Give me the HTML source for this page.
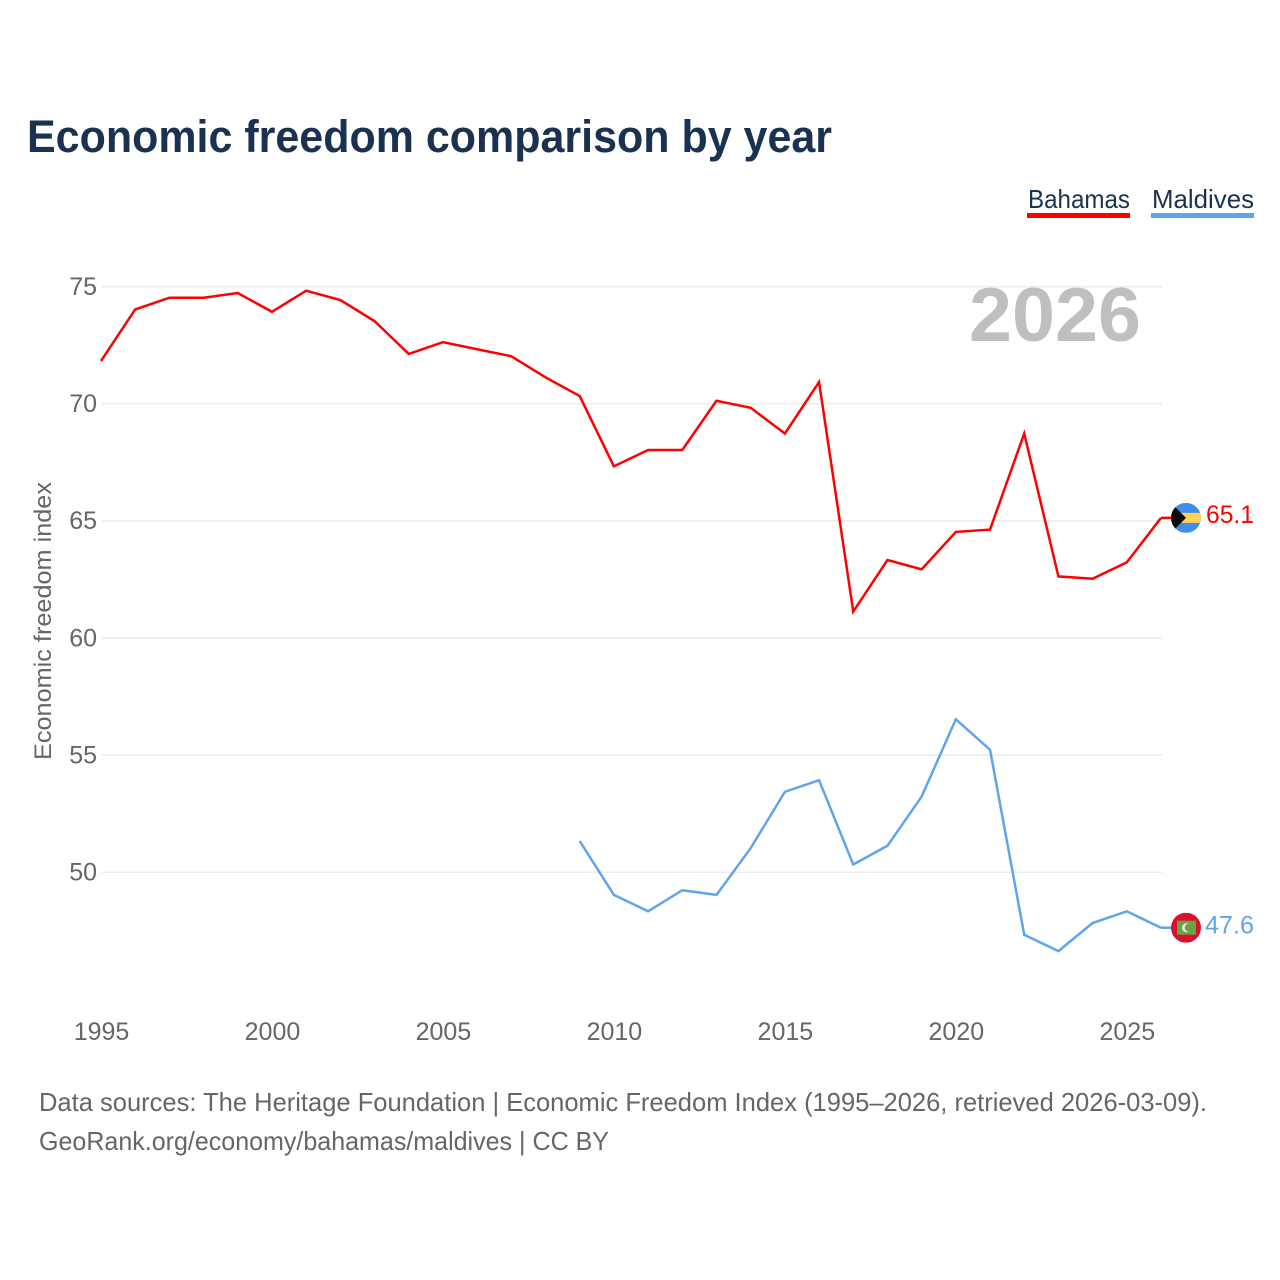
<!DOCTYPE html>
<html lang="en">
<head>
<meta charset="utf-8">
<title>Economic freedom comparison by year</title>
<style>
html,body{margin:0;padding:0;background:#fff;}
svg{display:block;font-family:"Liberation Sans",sans-serif;}
</style>
</head>
<body>
<svg id="chart" width="1280" height="1280" viewBox="0 0 1280 1280" xmlns="http://www.w3.org/2000/svg">
  <rect width="1280" height="1280" fill="#ffffff"/>
  <text x="27" y="152" font-size="45" font-weight="700" fill="#1a3150" textLength="805" lengthAdjust="spacingAndGlyphs">Economic freedom comparison by year</text>

  <g>
    <text x="1028" y="208" font-size="26" fill="#1a3150" textLength="102" lengthAdjust="spacingAndGlyphs">Bahamas</text>
    <rect x="1027" y="213" width="103" height="5" fill="#ff0000"/>
  </g>
  <g>
    <text x="1152" y="208" font-size="26" fill="#1a3150" textLength="102" lengthAdjust="spacingAndGlyphs">Maldives</text>
    <rect x="1151" y="213" width="103" height="5" fill="#5fa5ec"/>
  </g>

  <g id="grid"></g>
  <text x="1141" y="341" text-anchor="end" font-size="76" font-weight="700" fill="#bfbfbf" textLength="172" lengthAdjust="spacingAndGlyphs">2026</text>
  <g id="yticks"></g>
  <g id="xticks"></g>
  <text transform="translate(51,760) rotate(-90)" font-size="24" fill="#666666" textLength="278" lengthAdjust="spacingAndGlyphs">Economic freedom index</text>
  <g id="series"></g>

  <defs>
    <clipPath id="clip-bs"><circle cx="1186" cy="518" r="15"/></clipPath>
    <clipPath id="clip-mv"><circle cx="1186" cy="928" r="15"/></clipPath>
  </defs>
  <g id="flag-bs">
    <g clip-path="url(#clip-bs)">
      <rect x="1171" y="503" width="30" height="30" fill="#3f8fe8"/>
      <rect x="1171" y="513" width="30" height="10" fill="#ffd34d"/>
      <polygon points="1171,503 1186,518 1171,533" fill="#0c0c0c"/>
    </g>
  </g>
  <g id="flag-mv">
    <g clip-path="url(#clip-mv)">
      <rect x="1171" y="913" width="30" height="30" fill="#d9102e"/>
      <rect x="1177" y="921" width="19" height="14" fill="#6aa344"/>
      <circle cx="1186.5" cy="928" r="4.5" fill="#e6efe0"/>
      <circle cx="1188.5" cy="928" r="3.8" fill="#6aa344"/>
    </g>
  </g>
  <text id="value-bs" x="1206" y="523" font-size="25" fill="#ff0000" textLength="48" lengthAdjust="spacingAndGlyphs"></text>
  <text id="value-mv" x="1205" y="934" font-size="25" fill="#5fa5ec" textLength="49" lengthAdjust="spacingAndGlyphs"></text>

  <text x="39" y="1111" font-size="26" fill="#666666" textLength="1168" lengthAdjust="spacingAndGlyphs">Data sources: The Heritage Foundation | Economic Freedom Index (1995–2026, retrieved 2026-03-09).</text>
  <text x="39" y="1150" font-size="26" fill="#666666" textLength="570" lengthAdjust="spacingAndGlyphs">GeoRank.org/economy/bahamas/maldives | CC BY</text>
</svg>
<script>
const yTickValues = [50, 55, 60, 65, 70, 75];
const xTickYears = [1995, 2000, 2005, 2010, 2015, 2020, 2025];
const bahamasStartYear = 1995;
const bahamasValues = [71.8, 74.0, 74.5, 74.5, 74.7, 73.9, 74.8, 74.4, 73.5, 72.1, 72.6, 72.3, 72.0, 71.1, 70.3, 67.3, 68.0, 68.0, 70.1, 69.8, 68.7, 70.9, 61.1, 63.3, 62.9, 64.5, 64.6, 68.7, 62.6, 62.5, 63.2, 65.1];
const maldivesStartYear = 2009;
const maldivesValues = [51.3, 49.0, 48.3, 49.2, 49.0, 51.0, 53.4, 53.9, 50.3, 51.1, 53.2, 56.5, 55.2, 47.3, 46.6, 47.8, 48.3, 47.6];

const NS = 'http://www.w3.org/2000/svg';
function xScale(year) { return 101 + (year - 1995) * (1161 - 101) / 31; }
function yScale(v) { return 286 + (75 - v) * 23.42; }

const gridG = document.getElementById('grid');
const yG = document.getElementById('yticks');
const xG = document.getElementById('xticks');
const seriesG = document.getElementById('series');

yTickValues.forEach(function (v) {
  const line = document.createElementNS(NS, 'line');
  
  
  line.setAttribute('x1', xScale(1995) + 1);
  line.setAttribute('x2', xScale(2026) + 1);
  line.setAttribute('y1', yScale(v) + 0.7);
  line.setAttribute('y2', yScale(v) + 0.7);
  line.setAttribute('stroke', '#ececec');
  line.setAttribute('stroke-width', 1.5);
  gridG.appendChild(line);

  const t = document.createElementNS(NS, 'text');
  
  
  t.setAttribute('x', 97);
  t.setAttribute('y', yScale(v) + 9);
  t.setAttribute('text-anchor', 'end');
  t.setAttribute('font-size', 25);
  t.setAttribute('fill', '#666666');
  t.textContent = v;
  yG.appendChild(t);
});

xTickYears.forEach(function (yr) {
  const t = document.createElementNS(NS, 'text');
  
  
  t.setAttribute('x', xScale(yr) + 0.5);
  t.setAttribute('y', 1040);
  t.setAttribute('text-anchor', 'middle');
  t.setAttribute('font-size', 25);
  t.setAttribute('fill', '#666666');
  t.textContent = yr;
  xG.appendChild(t);
});

function pointsFor(startYear, values) {
  return values.map(function (v, i) {
    return xScale(startYear + i).toFixed(2) + ',' + yScale(v).toFixed(2);
  }).join(' ');
}

const bahamasLine = document.createElementNS(NS, 'polyline');


bahamasLine.setAttribute('points', pointsFor(bahamasStartYear, bahamasValues));
bahamasLine.setAttribute('fill', 'none');
bahamasLine.setAttribute('stroke', '#ff0000');
bahamasLine.setAttribute('stroke-width', 2.5);
seriesG.appendChild(bahamasLine);

const maldivesLine = document.createElementNS(NS, 'polyline');


maldivesLine.setAttribute('points', pointsFor(maldivesStartYear, maldivesValues));
maldivesLine.setAttribute('fill', 'none');
maldivesLine.setAttribute('stroke', '#5fa5ec');
maldivesLine.setAttribute('stroke-width', 2.5);
seriesG.appendChild(maldivesLine);

const bsLast = bahamasValues[bahamasValues.length - 1];
const mvLast = maldivesValues[maldivesValues.length - 1];

const bsStub = document.createElementNS(NS, 'line');


bsStub.setAttribute('x1', 1161);
bsStub.setAttribute('x2', 1172);
bsStub.setAttribute('y1', yScale(bsLast));
bsStub.setAttribute('y2', yScale(bsLast));
bsStub.setAttribute('stroke', '#ff0000');
bsStub.setAttribute('stroke-width', 2.5);
seriesG.appendChild(bsStub);

const mvStub = document.createElementNS(NS, 'line');


mvStub.setAttribute('x1', 1161);
mvStub.setAttribute('x2', 1172);
mvStub.setAttribute('y1', yScale(mvLast));
mvStub.setAttribute('y2', yScale(mvLast));
mvStub.setAttribute('stroke', '#5fa5ec');
mvStub.setAttribute('stroke-width', 2.5);
seriesG.appendChild(mvStub);

document.getElementById('value-bs').textContent = bsLast.toFixed(1);
document.getElementById('value-mv').textContent = mvLast.toFixed(1);
document.getElementById('flag-bs').setAttribute('transform', 'translate(0,' + (yScale(bsLast) - 518) + ')');
document.getElementById('flag-mv').setAttribute('transform', 'translate(0,' + (yScale(mvLast) - 928) + ')');
document.getElementById('value-bs').setAttribute('y', yScale(bsLast) + 5);
document.getElementById('value-mv').setAttribute('y', yScale(mvLast) + 6);
</script>
</body>
</html>
